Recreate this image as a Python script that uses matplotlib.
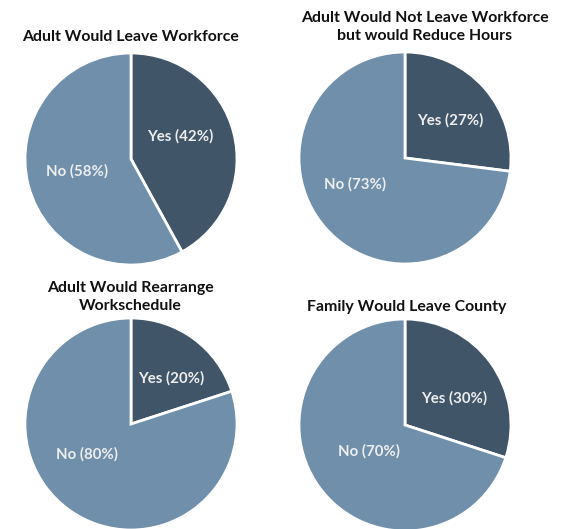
import matplotlib.pyplot as plt

# datos de las cuatro tortas
titulos = ['Adult Would Leave Workforce',
           'Adult Would Not Leave Workforce\nbut would Reduce Hours',
           'Adult Would Rearrange\nWorkschedule',
           'Family Would Leave County']
categorias = ['Yes', 'No']
si = [42, 27, 20, 30]
no = [58, 73, 80, 70]

# posicion de las etiquetas (en radios, relativo al centro)
pos_etiquetas = [[(0.46, 0.21), (-0.51, -0.12)],
                 [(0.43, 0.36), (-0.47, -0.25)],
                 [(0.38, 0.43), (-0.42, -0.29)],
                 [(0.46, 0.25), (-0.34, -0.25)]]

# centros de cada torta en pixeles (x, y desde arriba) y radio
centros = [(131, 159), (405, 158), (131, 424), (405, 425)]
titulo_y = [37, 27, 297, 307]
titulo_x = [131, 425, 130, 407]
radio = 106

colores = ['#405568', '#6f8faa']
W, H = 563, 529

plt.rcParams['font.family'] = ['Lato', 'DejaVu Sans']

fig = plt.figure(figsize=(W / 100, H / 100), dpi=100)

for i in range(4):
    cx, cy = centros[i]
    ax = fig.add_axes([(cx - radio) / W, (H - cy - radio) / H,
                       2 * radio / W, 2 * radio / H])
    vals = [si[i], no[i]]
    wedges, _ = ax.pie(vals, colors=colores, startangle=90, counterclock=False,
                       radius=1, wedgeprops=dict(edgecolor='white', linewidth=2))
    for j, v in enumerate(vals):
        x, y = pos_etiquetas[i][j]
        ax.text(x, y, f'{categorias[j]} ({v}%)', ha='center', va='center',
                color='#eeeeee', fontsize=10.8, fontweight='bold')
    ax.set_xlim(-1, 1)
    ax.set_ylim(-1, 1)
    ax.set_aspect('equal')
    ax.axis('off')
    fig.text(titulo_x[i] / W, 1 - titulo_y[i] / H, titulos[i], ha='center', va='center',
             fontsize=11.4, fontweight='bold', color='#111111', linespacing=1.4)

fig.savefig('out.png', dpi=100)
